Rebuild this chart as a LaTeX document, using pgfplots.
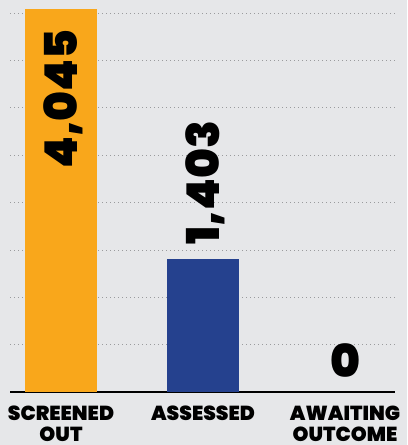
\documentclass[border=0pt]{standalone}
\usepackage{fontspec}
\setmainfont{Poppins}
\newfontfamily\heavy{Poppins Black}
\usepackage{pgfplots}
\pgfplotsset{compat=1.18}
\definecolor{bg}{HTML}{E6E7E9}
\definecolor{barorange}{HTML}{F9A71B}
\definecolor{barblue}{HTML}{25418E}
\definecolor{gridgray}{HTML}{9A9B9D}

\begin{document}
\begin{tikzpicture}
\path[use as bounding box, fill=bg] (0,0) rectangle (305.25pt,333.75pt);
\begin{axis}[
  at={(7.5pt,39.75pt)}, anchor=south west,
  scale only axis, width=288.75pt, height=294pt,
  xmin=-0.359, xmax=2.352, ymin=0, ymax=4140,
  axis x line*=bottom, axis y line*=left,
  x axis line style={line width=1.6pt, black},
  y axis line style={draw=none},
  ytick={500,1000,...,4000}, yticklabels={}, ytick style={draw=none},
  ymajorgrids, grid style={gridgray, line width=0.7pt, dash pattern=on 0.75pt off 2.25pt},
  xtick={0,1,2}, xtick style={draw=none},
  xticklabels={{SCREENED\\OUT},{ASSESSED},{AWAITING\\OUTCOME}},
  xticklabel style={align=center, inner sep=0pt, anchor=north, yshift=-10pt,
    font=\heavy\fontsize{15.2}{15.75}\selectfont},
  /pgf/number format/.cd, 1000 sep={,}, assume math mode=true,
  /pgfplots/.cd,
  nodes near coords,
  every node near coord/.append style={font=\heavy\fontsize{34}{34}\selectfont, inner sep=0pt, text depth=0pt},
]
\addplot[ybar, bar width=54pt, fill=barorange, draw=none,
  every node near coord/.append style={yshift=-15pt, rotate=90, anchor=east}]
  coordinates {(0,4045)};
\addplot[ybar, bar width=54pt, fill=barblue, draw=none,
  every node near coord/.append style={yshift=11pt, rotate=90, anchor=west}]
  coordinates {(1,1403)};
\addplot[ybar, bar width=54pt, fill=none, draw=none,
  every node near coord/.append style={yshift=11pt, anchor=south}]
  coordinates {(2,0)};
\end{axis}
\end{tikzpicture}
\end{document}
